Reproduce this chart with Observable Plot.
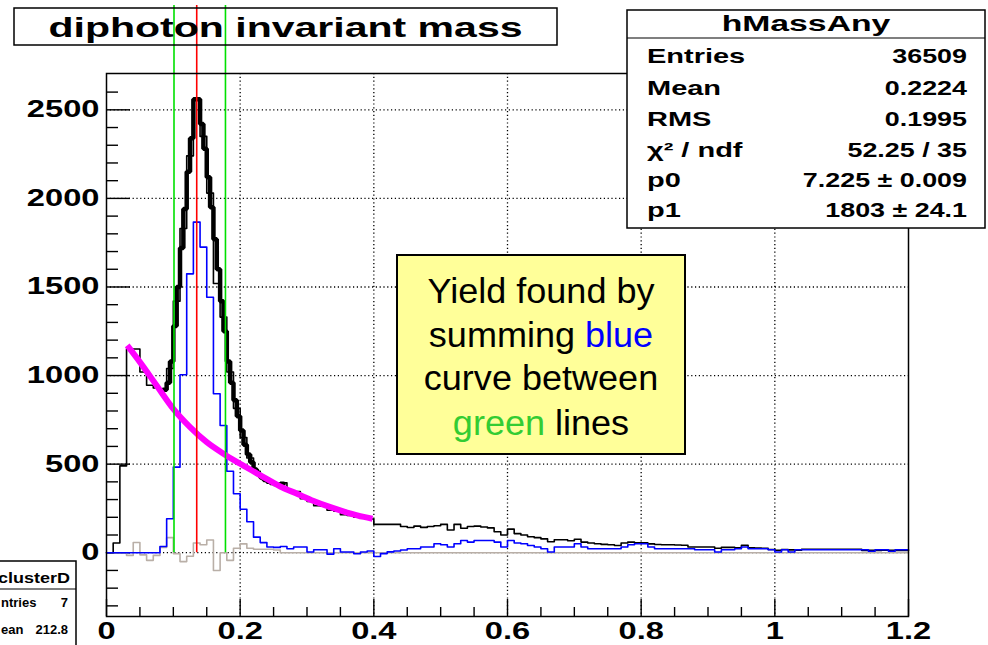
<!DOCTYPE html>
<html><head><meta charset="utf-8">
<script src="https://cdn.jsdelivr.net/npm/d3@7"></script>
<script src="https://cdn.jsdelivr.net/npm/@observablehq/plot@0.6"></script>
<style>
html,body{margin:0;padding:0;background:#fff;overflow:hidden}
#chart{position:relative;width:988px;height:645px}
</style></head><body><div id="chart"></div>
<script>
// ---------- histogram definitions ----------
const binStart = 0, binWidth = 0.01;
const blackCounts = [
  0, 55, 490, 1150, 1150, 1020, 945, 930, 915, 1040,
  1420, 1830, 2240, 2560, 2350, 2030, 1520, 1330, 1020, 815,
  650, 535, 460, 420, 398, 388, 395, 350, 345, 305,
  290, 265, 262, 240, 235, 215, 210, 200, 195, 190,
  160, 160, 160, 160, 148, 142, 150, 143, 148, 152,
  160, 128, 160, 138, 148, 150, 145, 140, 118, 100,
  133, 108, 100, 90, 85, 78, 62, 73, 73, 68,
  76, 60, 55, 51, 47, 45, 41, 55, 60, 56,
  56, 50, 46, 45, 45, 44, 42, 32, 32, 32,
  32, 25, 30, 30, 28, 42, 28, 26, 25, 18,
  14, 18, 16, 14, 20, 20, 20, 20, 20, 20,
  20, 20, 20, 13, 13, 13, 14, 14, 13, 13
];
const blueCounts = [
  0, 0, 0, 0, 0, 0, 0, 0, 35, 192,
  483, 1005, 1574, 1866, 1725, 1442, 897, 718, 460, 333,
  245, 175, 88, 57, 32, 30, 35, 22, 32, 32,
  4, 17, 17, -8, 22, 4, 4, -6, 4, 10,
  -21, -5, 5, 10, 15, 22, 22, 32, 32, 51,
  45, 32, 51, 69, 60, 69, 69, 69, 60, 32,
  69, 55, 51, 41, 32, 22, 4, 32, 32, 32,
  51, 32, 22, 22, 22, 22, 22, 32, 45, 51,
  51, 32, 22, 22, 22, 22, 22, 22, 17, 17,
  17, 4, 17, 17, 22, 32, 22, 22, 22, 17,
  4, 17, 4, 17, 17, 17, 17, 17, 17, 17,
  17, 17, 17, 17, 8, 17, 17, 8, 17, 17
];
const grayCounts = [
  0, 0, 0, -15, 58, -12, -43, -15, 30, 85,
  -5, -50, -20, 55, 45, 72, -100, 0, -43, 25,
  50, 25, 20, 20, 20, 15, 0, 0, 0, 0,
  0, 0, 0, 0, 0, 0, 0, 0, 0, 0,
  0, 0, 0, 0, 0, 0, 0, 0, 0, 0,
  0, 0, 0, 0, 0, 0, 0, 0, 0, 0,
  0, 0, 0, 0, 0, 0, 0, 0, 0, 0,
  0, 0, 0, 0, 0, 0, 0, 0, 0, 0,
  0, 0, 0, 0, 0, 0, 0, 0, 0, 0,
  0, 0, 0, 0, 0, 0, 0, 0, 0, 0,
  0, 0, 0, 0, 0, 0, 0, 0, 0, 0,
  0, 0, 0, 0, 0, 0, 0, 0, 0, 0
];
// finer-binned peak region (drawn thick)
const peakStart = 0.085, peakWidth = 0.005;
const peakCounts = [
  920, 960, 1080, 1280, 1500, 1720, 1940, 2150, 2340, 2560,
  2560, 2420, 2280, 2120, 1950, 1770, 1600, 1420, 1250, 1080,
  960, 860, 770, 690, 610, 555, 510, 470, 445, 425,
  410, 400, 393, 388, 384, 390
];
// background fit (magenta)
const fitX = [0.031, 0.05, 0.075, 0.1, 0.125, 0.15, 0.175, 0.2, 0.235, 0.26, 0.285, 0.31, 0.335, 0.36, 0.385, 0.398];
const fitY = [1170, 1076, 944, 812, 709, 624, 559, 502, 427, 374, 333, 292, 257, 227, 202, 192];
// window lines
const greenLinesX = [0.101, 0.178];
const redLineX = [0.135];
const markerTop = 3089;
// axes
const xMajorTicks = [0, 0.2, 0.4, 0.6, 0.8, 1.0, 1.2];
const xTickLabels = ["0", "0.2", "0.4", "0.6", "0.8", "1", "1.2"];
const xMinorTicks = [0.05, 0.1, 0.15, 0.25, 0.3, 0.35, 0.45, 0.5, 0.55, 0.65, 0.7, 0.75, 0.85, 0.9, 0.95, 1.05, 1.1, 1.15];
const xGridTicks = [0.2, 0.4, 0.6, 0.8, 1.0];
const yMajorTicks = [0, 500, 1000, 1500, 2000, 2500];
const yTickLabels = ["0", "500", "1000", "1500", "2000", "2500"];
const yMinorTicks = [-300, -200, -100, 100, 200, 300, 400, 600, 700, 800, 900, 1100, 1200, 1300, 1400, 1600, 1700, 1800, 1900, 2100, 2200, 2300, 2400, 2600];
// texts
const titleText = "diphoton invariant mass";
const statsTitle = "hMassAny";
const statLabels = ["Entries", "Mean", "RMS", "χ² / ndf", "p0", "p1"];
const statValues = ["36509", "0.2224", "0.1995", "52.25 / 35", "7.225 ± 0.009", "1803 ± 24.1"];
const clusterTitle = "clusterD";
const clusterLabels = ["ntries", "ean"];
const clusterValues = ["7", "212.8"];

// ---------- build ----------
function steps(counts, start, w) {
  const pts = counts.map((c, i) => ({x: start + i * w, y: c}));
  pts.push({x: start + counts.length * w, y: counts[counts.length - 1]});
  return pts;
}
const fitPts = fitX.map((x, i) => ({x, y: fitY[i]}));
const FONT = "'Liberation Sans', Arial, Helvetica, sans-serif";
const gridStyle = {stroke: "#000", strokeWidth: 1.3, strokeDasharray: "1.2,2.6"};

const plot = Plot.plot({
  width: 988, height: 645,
  marginLeft: 106, marginRight: 80, marginTop: 73, marginBottom: 29,
  style: {fontFamily: FONT, background: "transparent", color: "#000", overflow: "visible"},
  x: {domain: [0, 1.2], axis: null},
  y: {domain: [-360, 2705], axis: null},
  marks: [
    Plot.ruleX(xGridTicks, {x: d => d, ...gridStyle}),
    Plot.ruleY(yMajorTicks, {y: d => d, ...gridStyle}),
    Plot.tickY(yMinorTicks, {y: d => d, insetRight: 790, stroke: "#000", strokeWidth: 1.4}),
    Plot.tickY(yMajorTicks, {y: d => d, insetRight: 778, stroke: "#000", strokeWidth: 1.4}),
    Plot.tickX(xMinorTicks, {x: d => d, insetTop: 534, stroke: "#000", strokeWidth: 1.4}),
    Plot.tickX(xMajorTicks, {x: d => d, insetTop: 526, stroke: "#000", strokeWidth: 1.4}),
    Plot.line(steps(grayCounts, binStart, binWidth), {x: "x", y: "y", curve: "step-after", stroke: "#b9afa7", strokeWidth: 1.6}),
    Plot.line(steps(blackCounts, binStart, binWidth), {x: "x", y: "y", curve: "step-after", stroke: "#000", strokeWidth: 1.6}),
    Plot.line(steps(peakCounts, peakStart, peakWidth), {x: "x", y: "y", curve: "step-after", stroke: "#000", strokeWidth: 4.5, strokeLinejoin: "miter"}),
    Plot.line(steps(blueCounts, binStart, binWidth), {x: "x", y: "y", curve: "step-after", stroke: "#0000ff", strokeWidth: 1.6}),
    Plot.line(fitPts, {x: "x", y: "y", curve: "monotone-x", stroke: "#ff00ff", strokeWidth: 6, strokeLinecap: "butt"}),
    Plot.ruleX(greenLinesX, {x: d => d, y1: 0, y2: markerTop, stroke: "#00e000", strokeWidth: 1.6}),
    Plot.ruleX(redLineX, {x: d => d, y1: 0, y2: markerTop, stroke: "#ff0000", strokeWidth: 1.6}),
    Plot.frame({stroke: "#000", strokeWidth: 1.5}),
    Plot.text(yMajorTicks, {y: d => d, frameAnchor: "left", dx: -7, textAnchor: "end", text: d => yTickLabels[yMajorTicks.indexOf(d)], fontSize: 23, fontWeight: "bold"}),
    Plot.text(xMajorTicks, {x: d => d, frameAnchor: "bottom", dy: 6, lineAnchor: "top", text: d => xTickLabels[xMajorTicks.indexOf(d)], fontSize: 23, fontWeight: "bold"})
  ]
});
document.getElementById("chart").appendChild(plot);

// widen the bold tick labels horizontally (ROOT-like stretched glyphs); scale about the anchor x only
function stretch(el, s) {
  const t = el.getAttribute("transform") || "";
  const xa = parseFloat(el.getAttribute("x"));
  const x = isFinite(xa) ? xa : 0;
  el.setAttribute("transform", `${t} translate(${x},0) scale(${s},1) translate(${-x},0)`.trim());
}
d3.select(plot).selectAll('g[aria-label="text"] text').each(function() { stretch(this, 1.42); });

// ---------- annotation boxes ----------
const root = plot.tagName.toLowerCase() === "svg" ? plot : plot.querySelector("svg");
const g = d3.select(root).append("g").attr("font-family", FONT);
function txt(str, x, y, o) {
  return g.append("text")
    .attr("transform", `translate(${x},${y}) scale(${o.sx || 1},1)`)
    .attr("text-anchor", o.anchor || "start")
    .attr("font-size", o.size)
    .attr("font-weight", o.weight || "normal")
    .attr("fill", o.fill || "#000")
    .text(str);
}
// title box
g.append("rect").attr("x", 14).attr("y", 8).attr("width", 543).attr("height", 37)
  .attr("fill", "none").attr("stroke", "#000").attr("stroke-width", 1.5);
txt(titleText, 285.5, 37, {size: 27, weight: "bold", anchor: "middle", sx: 1.52});

// stats box
g.append("rect").attr("x", 627).attr("y", 10).attr("width", 358).attr("height", 218)
  .attr("fill", "#fff").attr("stroke", "#000").attr("stroke-width", 1.5);
g.append("line").attr("x1", 627).attr("x2", 985).attr("y1", 38).attr("y2", 38)
  .attr("stroke", "#000").attr("stroke-width", 1.2);
txt(statsTitle, 806, 31, {size: 22.5, weight: "bold", anchor: "middle", sx: 1.5});
const rowBase = [63, 95, 126, 157, 186.5, 216.5];
statLabels.forEach((s, i) => txt(s, 647, rowBase[i], {size: 21, weight: "bold", sx: 1.38}));
statValues.forEach((s, i) => txt(s, 967, rowBase[i], {size: 21, weight: "bold", anchor: "end", sx: 1.28}));

// yellow note
g.append("rect").attr("x", 397).attr("y", 255).attr("width", 288).attr("height", 199)
  .attr("fill", "#ffff99").attr("stroke", "#000").attr("stroke-width", 2);
const noteLines = [
  [["Yield found by", "#000"]],
  [["summing ", "#000"], ["blue", "#0000ff"]],
  [["curve between", "#000"]],
  [["green", "#33cc33"], [" lines", "#000"]]
];
const noteBase = [303, 347, 390, 435];
noteLines.forEach((parts, i) => {
  const t = txt("", 541, noteBase[i], {size: 35, anchor: "middle", sx: 1.03});
  parts.forEach(([s, c]) => t.append("tspan").attr("fill", c).text(s));
});

// partially visible second stats box (bottom-left)
g.append("rect").attr("x", -70).attr("y", 561).attr("width", 146).attr("height", 100)
  .attr("fill", "#fff").attr("stroke", "#000").attr("stroke-width", 1.5);
g.append("line").attr("x1", -70).attr("x2", 76).attr("y1", 589).attr("y2", 589)
  .attr("stroke", "#000").attr("stroke-width", 1.2);
txt(clusterTitle, 70, 583, {size: 15, weight: "bold", anchor: "end", sx: 1.2});
const clBase = [607, 634];
clusterLabels.forEach((s, i) => txt(s, 1, clBase[i], {size: 13, weight: "bold"}));
clusterValues.forEach((s, i) => txt(s, 68, clBase[i], {size: 13, weight: "bold", anchor: "end"}));
</script></body></html>
